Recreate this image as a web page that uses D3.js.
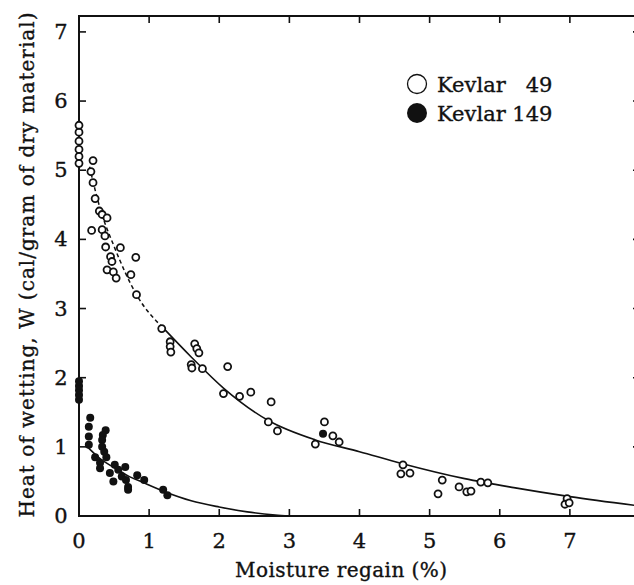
<!DOCTYPE html>
<html>
<head>
<meta charset="utf-8">
<script src="https://cdn.jsdelivr.net/npm/d3@7"></script>
<style>
    body { margin: 0; background: #fff; }
    .tickLabel, .axisTitle, .legendText { font-family: "DejaVu Serif", serif; fill: #111; stroke: #111; stroke-width: 0.35px; }
</style>
</head>
<body>
<script>
//heat of wetting vs moisture regain, kevlar 49 and kevlar 149
(function (){

    //measured points, kevlar 49 (open circles)
    var k49X = [0, 0, 0, 0, 0, 0,
        0.2, 0.17, 0.2, 0.23, 0.29, 0.33, 0.4, 0.18, 0.33, 0.37, 0.38, 0.59, 0.45, 0.47, 0.4, 0.49, 0.53, 0.74, 0.81, 0.82,
        1.18, 1.3, 1.3, 1.31, 1.65, 1.68, 1.71, 1.6, 1.61, 1.76, 2.12, 2.06, 2.29, 2.45, 2.74, 2.7, 2.83, 3.37,
        3.5, 3.62, 3.71, 4.62, 4.59, 4.72, 5.18, 5.12, 5.42, 5.53, 5.59, 5.73, 5.83, 6.96, 6.93, 6.99];
    var k49Y = [5.1, 5.2, 5.3, 5.42, 5.55, 5.65,
        5.14, 4.98, 4.82, 4.59, 4.41, 4.36, 4.31, 4.13, 4.14, 4.05, 3.89, 3.88, 3.75, 3.68, 3.56, 3.53, 3.44, 3.49, 3.74, 3.2,
        2.71, 2.52, 2.45, 2.37, 2.49, 2.42, 2.36, 2.19, 2.14, 2.13, 2.16, 1.77, 1.73, 1.79, 1.65, 1.36, 1.23, 1.04,
        1.36, 1.16, 1.07, 0.74, 0.61, 0.62, 0.52, 0.32, 0.42, 0.35, 0.36, 0.49, 0.48, 0.25, 0.17, 0.19];

    //measured points, kevlar 149 (filled circles)
    var k149X = [0, 0, 0, 0, 0,
        0.16, 0.14, 0.14, 0.14, 0.23, 0.3, 0.3, 0.38, 0.34, 0.33, 0.33, 0.36, 0.39,
        0.44, 0.49, 0.51, 0.66, 0.56, 0.61, 0.67, 0.7, 0.7, 0.83, 0.93, 1.2, 1.26, 3.48];
    var k149Y = [1.68, 1.75, 1.82, 1.88, 1.95,
        1.42, 1.29, 1.15, 1.03, 0.85, 0.77, 0.69, 1.24, 1.17, 1.1, 1.0, 0.93, 0.85,
        0.62, 0.5, 0.74, 0.71, 0.67, 0.57, 0.52, 0.42, 0.38, 0.59, 0.52, 0.38, 0.3, 1.19];

    //fitted curves as drawn on the figure
    var fit49X = [0.15, 0.3, 0.5, 0.82, 1.2, 1.6, 2.06, 2.7, 3.37, 4.0, 4.6, 5.5, 6.2, 7.0, 7.95];
    var fit49Y = [5.05, 4.45, 3.9, 3.2, 2.72, 2.3, 1.85, 1.38, 1.1, 0.93, 0.76, 0.54, 0.41, 0.28, 0.15];
    var fit149X = [0.12, 0.3, 0.5, 0.7, 0.9, 1.25, 1.6, 2.0, 2.4, 2.8, 3.0];
    var fit149Y = [1.0, 0.83, 0.7, 0.58, 0.49, 0.34, 0.22, 0.13, 0.06, 0.015, 0];
    var dashEnd = 1.2; //fit49 is drawn dashed up to here

    //tick labels
    var xTicks = [0, 1, 2, 3, 4, 5, 6, 7];
    var yTicks = [0, 1, 2, 3, 4, 5, 6, 7];

    var legendLabels = ["Kevlar\u00a0\u00a0\u00a049", "Kevlar 149"];

    var width = 634,
        height = 585;

    var svg = d3.select("body")
        .append("svg")
        .attr("width", width)
        .attr("height", height);

    //scales, frame runs 0..8 by 0..7.23
    var x = d3.scaleLinear().domain([0, 8]).range([79, 640]);
    var y = d3.scaleLinear().domain([0, 7.23]).range([516, 16]);

    var ink = "#111";

    //frame
    svg.append("rect")
        .attr("x", x(0))
        .attr("y", y(7.23))
        .attr("width", x(8) - x(0))
        .attr("height", y(0) - y(7.23))
        .attr("fill", "none")
        .attr("stroke", ink)
        .attr("stroke-width", 2);

    //inward ticks on all four sides
    var tickLen = 7;
    var inner = [1, 2, 3, 4, 5, 6, 7];
    svg.selectAll(".tickB").data(inner).enter().append("line")
        .attr("x1", function(d){ return x(d); }).attr("x2", function(d){ return x(d); })
        .attr("y1", y(0)).attr("y2", y(0) - tickLen)
        .attr("stroke", ink).attr("stroke-width", 1.6);
    svg.selectAll(".tickT").data(inner).enter().append("line")
        .attr("x1", function(d){ return x(d); }).attr("x2", function(d){ return x(d); })
        .attr("y1", y(7.23)).attr("y2", y(7.23) + tickLen)
        .attr("stroke", ink).attr("stroke-width", 1.6);
    svg.selectAll(".tickL").data(inner).enter().append("line")
        .attr("x1", x(0)).attr("x2", x(0) + tickLen)
        .attr("y1", function(d){ return y(d); }).attr("y2", function(d){ return y(d); })
        .attr("stroke", ink).attr("stroke-width", 1.6);
    svg.selectAll(".tickR").data(inner).enter().append("line")
        .attr("x1", x(8)).attr("x2", x(8) - tickLen)
        .attr("y1", function(d){ return y(d); }).attr("y2", function(d){ return y(d); })
        .attr("stroke", ink).attr("stroke-width", 1.6);

    //tick labels
    svg.selectAll(".xLab").data(xTicks).enter().append("text")
        .attr("class", "tickLabel")
        .attr("x", function(d){ return x(d); })
        .attr("y", 548)
        .attr("text-anchor", "middle")
        .style("font-size", "21px")
        .text(function(d){ return d; });
    svg.selectAll(".yLab").data(yTicks).enter().append("text")
        .attr("class", "tickLabel")
        .attr("x", 61)
        .attr("y", function(d){ return y(d) + 7; })
        .attr("text-anchor", "middle")
        .style("font-size", "21px")
        .text(function(d){ return d; });

    //axis titles
    svg.append("text")
        .attr("class", "axisTitle")
        .attr("transform", "translate(34,265) rotate(-90)")
        .attr("text-anchor", "middle")
        .attr("textLength", 505)
        .attr("lengthAdjust", "spacing")
        .style("font-size", "20px")
        .text("Heat of wetting, W (cal/gram of dry material)");
    svg.append("text")
        .attr("class", "axisTitle")
        .attr("x", 341)
        .attr("y", 577)
        .attr("text-anchor", "middle")
        .attr("textLength", 212)
        .attr("lengthAdjust", "spacing")
        .style("font-size", "20px")
        .text("Moisture regain (%)");

    //fitted curves
    var line = d3.line()
        .x(function(d){ return x(d[0]); })
        .y(function(d){ return y(d[1]); })
        .curve(d3.curveMonotoneX);

    var fit49 = d3.zip(fit49X, fit49Y);
    var fit149 = d3.zip(fit149X, fit149Y);
    var splitAt = fit49X.indexOf(dashEnd);

    svg.append("path")
        .datum(fit49.slice(0, splitAt + 1))
        .attr("d", line)
        .attr("fill", "none")
        .attr("stroke", ink)
        .attr("stroke-width", 1.5)
        .attr("stroke-dasharray", "4,3");
    svg.append("path")
        .datum(fit49.slice(splitAt))
        .attr("d", line)
        .attr("fill", "none")
        .attr("stroke", ink)
        .attr("stroke-width", 1.6);
    svg.append("path")
        .datum(fit149)
        .attr("d", line)
        .attr("fill", "none")
        .attr("stroke", ink)
        .attr("stroke-width", 1.6);

    //points
    svg.selectAll(".k49").data(d3.zip(k49X, k49Y)).enter().append("circle")
        .attr("class", "k49")
        .attr("cx", function(d){ return x(d[0]); })
        .attr("cy", function(d){ return y(d[1]); })
        .attr("r", 3.5)
        .attr("fill", "#fff")
        .attr("stroke", ink)
        .attr("stroke-width", 1.8);
    svg.selectAll(".k149").data(d3.zip(k149X, k149Y)).enter().append("circle")
        .attr("class", "k149")
        .attr("cx", function(d){ return x(d[0]); })
        .attr("cy", function(d){ return y(d[1]); })
        .attr("r", 4)
        .attr("fill", ink);

    //legend
    var legend = svg.append("g");
    legend.append("circle")
        .attr("cx", 417).attr("cy", 84).attr("r", 9.5)
        .attr("fill", "#fff").attr("stroke", ink).attr("stroke-width", 1.3);
    legend.append("circle")
        .attr("cx", 417).attr("cy", 113).attr("r", 10)
        .attr("fill", ink);
    legend.selectAll(".legendText").data(legendLabels).enter().append("text")
        .attr("class", "legendText")
        .attr("x", 437)
        .attr("y", function(d, i){ return 92 + i * 29; })
        .style("font-size", "21px")
        .text(function(d){ return d; });

})();
</script>
</body>
</html>
